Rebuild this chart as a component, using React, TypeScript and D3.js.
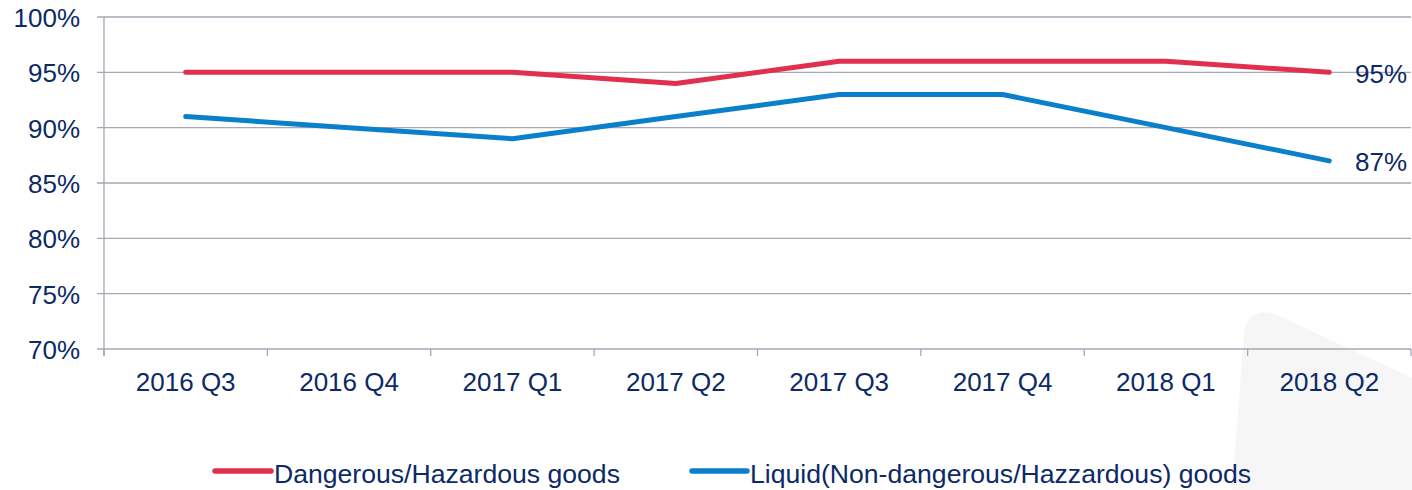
import React from "react";
import * as d3 from "d3";

const categories = ["2016 Q3", "2016 Q4", "2017 Q1", "2017 Q2", "2017 Q3", "2017 Q4", "2018 Q1", "2018 Q2"];
const dangerous = [95, 95, 95, 94, 96, 96, 96, 95];
const liquid = [91, 90, 89, 91, 93, 93, 90, 87];
const yTicks = [70, 75, 80, 85, 90, 95, 100];
const seriesNames = ["Dangerous/Hazardous goods", "Liquid(Non-dangerous/Hazzardous) goods"];

const W = 1412;
const H = 490;
const TEXT = "#0c2a66";
const GRID = "#a7a7b5";
const RED = "#e0304e";
const BLUE = "#0a80cc";
const FONT = "'Liberation Sans', Arial, sans-serif";

export default function App() {
  const x = d3.scaleBand<string>().domain(categories).range([104, 1411]);
  const y = d3.scaleLinear().domain([70, 100]).range([349, 17]);
  const line = d3
    .line<number>()
    .x((_, i) => (x(categories[i]) as number) + x.bandwidth() / 2)
    .y((d) => y(d));

  const boundaries = categories.map((c) => x(c) as number).concat([x.range()[1]]);
  const series = [
    { name: seriesNames[0], data: dangerous, color: RED, lx0: 215, lx1: 271, tx: 274 },
    { name: seriesNames[1], data: liquid, color: BLUE, lx0: 692, lx1: 747, tx: 750 },
  ];

  return (
    <div style={{ position: "absolute", left: 0, top: 0 }}>
      <svg width={W} height={H} style={{ display: "block", fontFamily: FONT }}>
        <rect width={W} height={H} fill="#ffffff" />
        <path
          d="M1232,490 L1244,335 Q1247,306 1275,314 L1412,378 L1412,490 Z"
          fill="#f6f6f7"
        />
        {yTicks.map((t) => (
          <g key={t}>
            <line x1={97} x2={1411} y1={y(t)} y2={y(t)} stroke={GRID} strokeWidth={1.3} />
            <text x={80} y={y(t) + 10} textAnchor="end" fontSize={26} fill={TEXT}>
              {t}%
            </text>
          </g>
        ))}
        <line x1={104} x2={104} y1={y(100)} y2={356} stroke={GRID} strokeWidth={1.3} />
        {boundaries.map((b, i) => (
          <line key={i} x1={b} x2={b} y1={349} y2={356} stroke={GRID} strokeWidth={1.3} />
        ))}
        {categories.map((c) => (
          <text
            key={c}
            x={(x(c) as number) + x.bandwidth() / 2}
            y={391}
            textAnchor="middle"
            fontSize={26}
            fill={TEXT}
          >
            {c}
          </text>
        ))}
        {series.map((s) => (
          <path
            key={s.name}
            d={line(s.data) || ""}
            fill="none"
            stroke={s.color}
            strokeWidth={5}
            strokeLinecap="round"
            strokeLinejoin="round"
          />
        ))}
        {series.map((s) => {
          const last = s.data[s.data.length - 1];
          return (
            <text key={s.name + "l"} x={1355} y={y(last) + 10.5} fontSize={26} fill={TEXT}>
              {last}%
            </text>
          );
        })}
        {series.map((s) => (
          <g key={s.name + "lg"}>
            <line x1={s.lx0} x2={s.lx1} y1={471} y2={471} stroke={s.color} strokeWidth={5.5} strokeLinecap="round" />
            <text x={s.tx} y={483} fontSize={26.6} fill={TEXT}>
              {s.name}
            </text>
          </g>
        ))}
      </svg>
    </div>
  );
}
